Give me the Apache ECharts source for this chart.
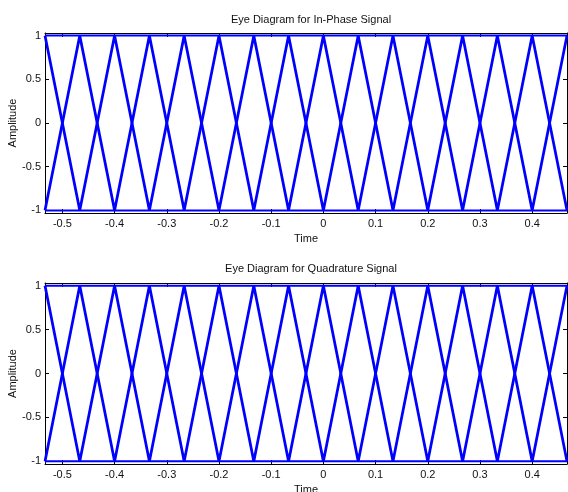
<!DOCTYPE html>
<html>
<head>
<meta charset="utf-8">
<script src="https://cdn.jsdelivr.net/npm/echarts@6/dist/echarts.min.js"></script>
<style>
  html, body { margin: 0; padding: 0; background: #fff; }
  #chart { width: 568px; height: 492px; }
</style>
</head>
<body>
<div id="chart"></div>
<script>
// Symbol boundary instants (s) at which the traces change direction
const symbolTimes = [-0.5333, -0.4667, -0.4, -0.3333, -0.2667, -0.2, -0.1333, -0.0667,
                     0, 0.0667, 0.1333, 0.2, 0.2667, 0.3333, 0.4, 0.4667];

// In-phase traces (amplitude at each symbol boundary)
const inPhaseDownUp = [1, -1, 1, -1, 1, -1, 1, -1, 1, -1, 1, -1, 1, -1, 1, -1];
const inPhaseUpDown = [-1, 1, -1, 1, -1, 1, -1, 1, -1, 1, -1, 1, -1, 1, -1, 1];
const inPhaseHigh   = [1, 1, 1, 1, 1, 1, 1, 1, 1, 1, 1, 1, 1, 1, 1, 1];
const inPhaseLow    = [-1, -1, -1, -1, -1, -1, -1, -1, -1, -1, -1, -1, -1, -1, -1, -1];

// Quadrature traces
const quadDownUp = [1, -1, 1, -1, 1, -1, 1, -1, 1, -1, 1, -1, 1, -1, 1, -1];
const quadUpDown = [-1, 1, -1, 1, -1, 1, -1, 1, -1, 1, -1, 1, -1, 1, -1, 1];
const quadHigh   = [1, 1, 1, 1, 1, 1, 1, 1, 1, 1, 1, 1, 1, 1, 1, 1];
const quadLow    = [-1, -1, -1, -1, -1, -1, -1, -1, -1, -1, -1, -1, -1, -1, -1, -1];

// Axis ticks
const timeTicks = [-0.5, -0.4, -0.3, -0.2, -0.1, 0, 0.1, 0.2, 0.3, 0.4];
const timeTickLabels = ['-0.5', '-0.4', '-0.3', '-0.2', '-0.1', '0', '0.1', '0.2', '0.3', '0.4'];
const ampTicks = [-1, -0.5, 0, 0.5, 1];
const ampTickLabels = ['-1', '-0.5', '0', '0.5', '1'];

const titles = ['Eye Diagram for In-Phase Signal', 'Eye Diagram for Quadrature Signal'];
const panels = [
  [inPhaseDownUp, inPhaseUpDown, inPhaseHigh, inPhaseLow],
  [quadDownUp, quadUpDown, quadHigh, quadLow]
];

const FONT = '"Liberation Sans", Arial, sans-serif';
const TIME_MIN = symbolTimes[0];
const TIME_MAX = symbolTimes[symbolTimes.length - 1];

const grids = [
  { left: 45, top: 33, width: 522, height: 180, containLabel: false, outerBoundsMode: 'none' },
  { left: 45, top: 283, width: 522, height: 181, containLabel: false, outerBoundsMode: 'none' }
];

function labelFor(list, labels) {
  return function (v) {
    for (let i = 0; i < list.length; i++) {
      if (Math.abs(list[i] - v) < 1e-9) return labels[i];
    }
    return '';
  };
}

const xAxes = [], yAxes = [], series = [], titleOpts = [];
grids.forEach(function (g, gi) {
  titleOpts.push({
    text: titles[gi],
    left: 306, top: gi === 0 ? 9 : 258, textAlign: 'center',
    textStyle: { fontFamily: FONT, fontSize: 11, fontWeight: 'normal', color: '#111' }
  });
  const axisLine = { show: true, onZero: false, lineStyle: { color: '#000', width: 1 } };
  const tick = { show: true, inside: true, length: 4, lineStyle: { color: '#000' } };
  // bottom time axis
  xAxes.push({
    type: 'value', gridIndex: gi, position: 'bottom', min: TIME_MIN, max: TIME_MAX,
    name: 'Time', nameLocation: 'middle', nameGap: 20, nameMoveOverlap: false,
    nameTextStyle: { fontFamily: FONT, fontSize: 11, color: '#111' },
    axisLine: axisLine,
    axisTick: Object.assign({ customValues: timeTicks }, tick),
    axisLabel: { customValues: timeTicks, formatter: labelFor(timeTicks, timeTickLabels),
                 margin: 5, fontFamily: FONT, fontSize: 11, color: '#111' },
    splitLine: { show: false }
  });
  // top frame edge
  xAxes.push({
    type: 'value', gridIndex: gi, position: 'top', min: TIME_MIN, max: TIME_MAX,
    axisLine: axisLine,
    axisTick: Object.assign({ customValues: timeTicks }, tick),
    axisLabel: { show: false }, splitLine: { show: false }
  });
  // left amplitude axis
  yAxes.push({
    type: 'value', gridIndex: gi, position: 'left', min: -1.03, max: 1.03,
    name: 'Amplitude', nameLocation: 'middle', nameGap: 27, nameMoveOverlap: false,
    nameTextStyle: { fontFamily: FONT, fontSize: 11, color: '#111' },
    axisLine: axisLine,
    axisTick: Object.assign({ customValues: ampTicks }, tick),
    axisLabel: { customValues: ampTicks, formatter: labelFor(ampTicks, ampTickLabels),
                 margin: 4, fontFamily: FONT, fontSize: 11, color: '#111' },
    splitLine: { show: false }
  });
  // right frame edge
  yAxes.push({
    type: 'value', gridIndex: gi, position: 'right', min: -1.03, max: 1.03,
    axisLine: axisLine,
    axisTick: Object.assign({ customValues: ampTicks }, tick),
    axisLabel: { show: false }, splitLine: { show: false }
  });

  panels[gi].forEach(function (trace, ti) {
    series.push({
      type: 'line',
      xAxisIndex: gi * 2, yAxisIndex: gi * 2,
      data: symbolTimes.map(function (t, i) { return [t, trace[i]]; }),
      showSymbol: false, symbol: 'none', silent: true, animation: false,
      clip: true,
      lineStyle: { color: '#0000ff', width: ti < 2 ? 2.7 : 2 }
    });
  });
});

const chart = echarts.init(document.getElementById('chart'), null, { renderer: 'canvas' });
chart.setOption({
  backgroundColor: '#ffffff',
  animation: false,
  title: titleOpts,
  grid: grids,
  xAxis: xAxes,
  yAxis: yAxes,
  series: series
});
</script>
</body>
</html>
